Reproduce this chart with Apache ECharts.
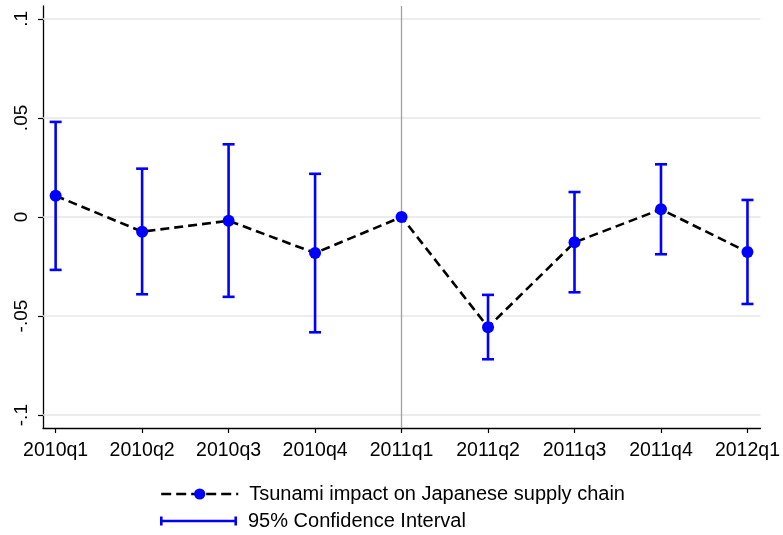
<!DOCTYPE html>
<html>
<head>
<meta charset="utf-8">
<script src="https://cdn.jsdelivr.net/npm/echarts@6/dist/echarts.min.js"></script>
<style>
html,body{margin:0;padding:0;background:#fff;}
#chart{width:783px;height:535px;}
</style>
</head>
<body>
<div id="chart"></div>
<script>
var categories = ['2010q1','2010q2','2010q3','2010q4','2011q1','2011q2','2011q3','2011q4','2012q1'];
var estimates = [0.0107, -0.0074, -0.0019, -0.0182, 0.0, -0.0556, -0.0128, 0.0039, -0.0177];
var ciUpper = [0.0480, 0.0244, 0.0367, 0.0218, null, -0.0393, 0.0126, 0.0266, 0.0086];
var ciLower = [-0.0267, -0.0390, -0.0403, -0.0582, null, -0.0718, -0.0380, -0.0188, -0.0439];
var yTicks = [-0.1, -0.05, 0, 0.05, 0.1];
var yTickLabels = ['-.1', '-.05', '0', '.05', '.1'];
var eventIndex = 4;
var seriesNames = ['Tsunami impact on Japanese supply chain', '95% Confidence Interval'];

var FONT = "'Liberation Sans', Arial, Helvetica, sans-serif";
var BLUE = '#0000ff';
var xIdx = categories.map(function (c, i) { return i; });

var chart = echarts.init(document.getElementById('chart'), null, {renderer: 'canvas'});

var legendText = {fontFamily: FONT, fontSize: 20, color: '#000', padding: [0, 0, 0, 6]};

var option = {
  animation: false,
  backgroundColor: '#ffffff',
  grid: {left: 43, right: 20, top: 6, bottom: 107, containLabel: false},
  xAxis: {
    type: 'value',
    min: -0.146,
    max: 8.15,
    splitLine: {show: false},
    axisLine: {show: true, onZero: false, lineStyle: {color: '#000', width: 1.3}},
    axisTick: {show: true, length: 5, customValues: xIdx, lineStyle: {color: '#000', width: 1.2}},
    axisLabel: {
      customValues: xIdx,
      margin: 13,
      fontFamily: FONT,
      fontSize: 19.5,
      color: '#000',
      formatter: function (v) { return categories[Math.round(v)]; }
    }
  },
  yAxis: {
    type: 'value',
    min: -0.1065,
    max: 0.1065,
    splitLine: {show: false},
    axisLine: {show: true, onZero: false, lineStyle: {color: '#000', width: 1.3}},
    axisTick: {show: true, length: 5, customValues: yTicks, lineStyle: {color: '#000', width: 1.2}},
    axisLabel: {
      customValues: yTicks,
      rotate: 90,
      margin: 12,
      fontFamily: FONT,
      fontSize: 19,
      color: '#000',
      formatter: function (v) {
        for (var i = 0; i < yTicks.length; i++) {
          if (Math.abs(yTicks[i] - v) < 1e-9) return yTickLabels[i];
        }
        return '';
      }
    }
  },
  legend: [
    {
      left: 160,
      top: 484,
      padding: 0,
      itemWidth: 77,
      itemHeight: 14,
      textStyle: legendText,
      lineStyle: {width: 2.4, type: [10, 5]},
      data: [{name: seriesNames[0]}]
    },
    {
      left: 160,
      top: 511,
      padding: 0,
      itemWidth: 77,
      itemHeight: 9,
      textStyle: legendText,
      data: [{name: seriesNames[1], icon: 'path://M0,0h2.6v9h-2.6z M0,3.3h77v2.4h-77z M74.4,0h2.6v9h-2.6z'}]
    }
  ],
  series: [
    {
      name: 'grid',
      type: 'line',
      data: [],
      silent: true,
      z: 0,
      markLine: {
        silent: true,
        symbol: 'none',
        label: {show: false},
        animation: false,
        data: yTicks.map(function (t) {
          return {yAxis: t, lineStyle: {color: '#e6e6e6', width: 1.5, type: 'solid'}};
        }).concat([{xAxis: eventIndex, lineStyle: {color: '#a0a0a0', width: 1.3, type: 'solid'}}])
      }
    },
    {
      name: seriesNames[1],
      type: 'custom',
      z: 8,
      itemStyle: {color: BLUE},
      data: xIdx.map(function (i) { return [i, ciLower[i], ciUpper[i]]; }),
      encode: {x: 0, y: [1, 2]},
      renderItem: function (params, api) {
        var lo = api.value(1), hi = api.value(2);
        if (lo === null || hi === null || isNaN(lo) || isNaN(hi)) return null;
        var x = api.value(0);
        var pLo = api.coord([x, lo]);
        var pHi = api.coord([x, hi]);
        var hw = 6;
        var st = {stroke: BLUE, lineWidth: 2.6, fill: null};
        return {
          type: 'group',
          children: [
            {type: 'line', shape: {x1: pLo[0], y1: pLo[1], x2: pHi[0], y2: pHi[1]}, style: st},
            {type: 'line', shape: {x1: pLo[0] - hw, y1: pLo[1], x2: pLo[0] + hw, y2: pLo[1]}, style: st},
            {type: 'line', shape: {x1: pHi[0] - hw, y1: pHi[1], x2: pHi[0] + hw, y2: pHi[1]}, style: st}
          ]
        };
      }
    },
    {
      name: seriesNames[0],
      type: 'line',
      z: 10,
      data: xIdx.map(function (i) { return [i, estimates[i]]; }),
      symbol: 'circle',
      symbolSize: 12,
      showAllSymbol: true,
      lineStyle: {color: '#000', width: 2.6, type: [9, 5]},
      itemStyle: {color: BLUE, borderWidth: 0}
    }
  ]
};
chart.setOption(option);
</script>
</body>
</html>
